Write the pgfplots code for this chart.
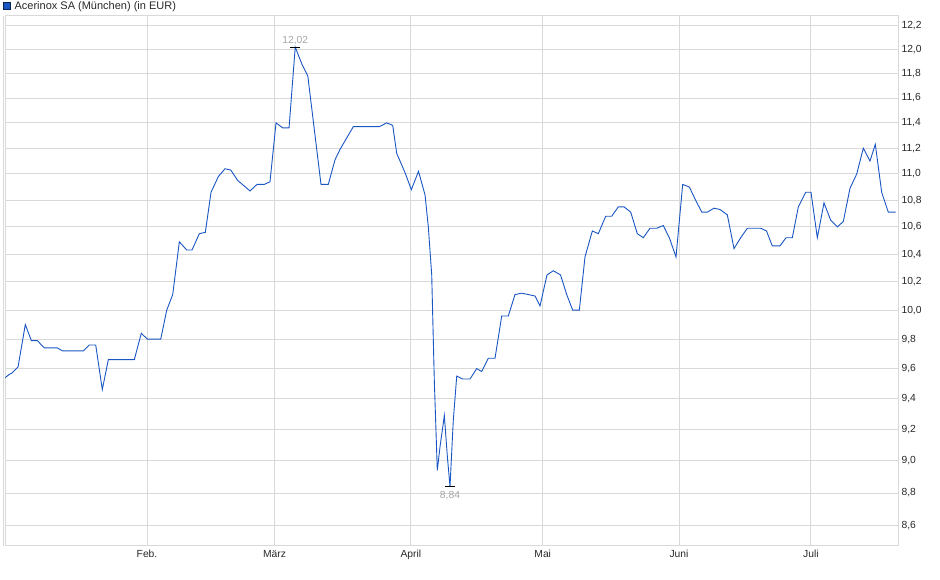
\documentclass[border=0pt]{standalone}
\usepackage{fontspec}
\setmainfont{Liberation Sans}
\usepackage{pgfplots}
\usepackage{pgfplotstable}
\pgfplotsset{compat=1.18}

\definecolor{linie}{RGB}{25,85,195}
\definecolor{raster}{RGB}{217,217,217}
\definecolor{schrift}{RGB}{40,40,40}
\definecolor{marke}{RGB}{165,165,165}

% Tag (0 = 1. Januar) und Kurs in EUR
\pgfplotstableread{
tag kurs
-1.23 9.54
-0.39 9.56
0.30 9.57
1.66 9.61
3.32 9.90
4.69 9.79
6.05 9.79
7.64 9.74
10.60 9.74
11.74 9.72
16.51 9.72
17.88 9.76
19.33 9.76
20.83 9.46
22.20 9.66
28.11 9.66
29.70 9.84
31.07 9.80
34.12 9.80
35.48 10.00
36.85 10.11
38.35 10.49
40.03 10.43
41.23 10.43
42.89 10.55
44.26 10.56
45.56 10.86
47.22 10.98
48.74 11.04
50.04 11.03
51.63 10.95
54.43 10.87
56.02 10.92
57.68 10.92
58.97 10.94
60.34 11.40
61.86 11.36
63.30 11.36
64.71 12.02
66.21 11.88
67.57 11.78
70.57 10.92
72.23 10.92
73.76 11.11
74.89 11.19
77.92 11.37
83.83 11.37
85.51 11.40
86.88 11.38
87.79 11.16
89.68 11.01
91.11 10.88
92.75 11.02
94.23 10.84
94.98 10.60
95.75 10.25
96.34 9.52
97.02 8.94
97.64 9.09
98.62 9.29
99.30 9.03
99.91 8.84
100.66 9.26
101.44 9.55
102.80 9.53
104.46 9.53
105.98 9.60
107.12 9.58
108.62 9.67
110.15 9.67
111.67 9.96
113.17 9.96
114.69 10.11
116.22 10.12
117.72 10.11
119.24 10.10
120.38 10.03
121.97 10.25
123.41 10.28
125.04 10.25
126.45 10.11
127.82 10.00
129.32 10.00
130.61 10.38
132.28 10.57
133.64 10.55
135.32 10.68
136.69 10.68
138.19 10.75
139.48 10.75
141.01 10.71
142.51 10.55
143.87 10.52
145.40 10.59
146.92 10.59
148.42 10.61
149.79 10.52
151.31 10.38
152.83 10.92
154.34 10.90
155.63 10.81
157.16 10.71
158.43 10.71
159.95 10.74
161.32 10.73
162.98 10.69
164.50 10.44
166.02 10.52
167.53 10.59
169.05 10.59
170.57 10.59
171.89 10.57
173.21 10.46
174.96 10.46
176.33 10.52
177.76 10.52
179.13 10.75
180.81 10.86
182.01 10.86
183.45 10.52
184.97 10.78
186.49 10.65
188.00 10.60
189.36 10.64
190.88 10.89
192.41 11.00
193.91 11.20
195.43 11.10
196.64 11.23
198.09 10.86
199.59 10.71
201.28 10.71
}\kurs

\begin{document}
\begin{tikzpicture}
\useasboundingbox (0,0) rectangle (940pt,579pt);
\begin{axis}[
    at={(5pt,33pt)}, anchor=south west,
    scale only axis, width=893pt, height=530pt,
    ymode=log,
    xmin=-1.3, xmax=201.8,
    ymin=8.48, ymax=12.285,
    clip=false,
    axis line style={raster, line width=1pt},
    grid=major,
    grid style={raster, line width=1pt},
    major tick length=0pt,
    xtick={31,60,91,121,152,182},
    xticklabels={Feb., März, April, Mai, Juni, Juli},
    ytick={8.6,8.8,9.0,9.2,9.4,9.6,9.8,10.0,10.2,10.4,10.6,10.8,11.0,11.2,11.4,11.6,11.8,12.0,12.2},
    yticklabels={{8,6},{8,8},{9,0},{9,2},{9,4},{9,6},{9,8},{10,0},{10,2},{10,4},{10,6},{10,8},{11,0},{11,2},{11,4},{11,6},{11,8},{12,0},{12,2}},
    yticklabel pos=right,
    tick label style={font=\fontsize{10.3}{12}\selectfont, text=schrift},
    xticklabel style={yshift=-1pt},
    legend style={at={(0,1)}, anchor=west, xshift=-2pt, yshift=10pt,
        draw=none, fill=none, inner sep=0pt,
        font=\fontsize{11}{13}\selectfont, text=schrift,
        /tikz/every even column/.append style={column sep=0pt}},
]
\draw[raster, line width=1pt] ([xshift=-2pt]rel axis cs:0,0) -- ([xshift=-2pt]rel axis cs:0,1);

\addlegendimage{legend image code/.code={\draw[fill=linie, draw=black!60!linie, line width=0.8pt] (0pt,-3.5pt) rectangle (7pt,3.5pt); \path[draw=none] (0pt,0pt) -- (9pt,0pt);}}
\addlegendentry{Acerinox SA (München) (in EUR)}

\addplot[linie, line width=0.9pt, forget plot] table[x=tag, y=kurs] {\kurs};

% Hoch und Tief
\addplot[only marks, mark=-, mark size=5pt, mark options={black, line width=1pt},
    nodes near coords, point meta=explicit symbolic,
    nodes near coords style={font=\fontsize{10.3}{12}\selectfont, text=marke, anchor=south, yshift=-1pt},
    forget plot] coordinates {(64.71,12.02) [12,02]};
\addplot[only marks, mark=-, mark size=5pt, mark options={black, line width=1pt},
    nodes near coords, point meta=explicit symbolic,
    nodes near coords style={font=\fontsize{10.3}{12}\selectfont, text=marke, anchor=north, yshift=-1pt},
    forget plot] coordinates {(99.91,8.84) [8,84]};
\end{axis}
\end{tikzpicture}
\end{document}
